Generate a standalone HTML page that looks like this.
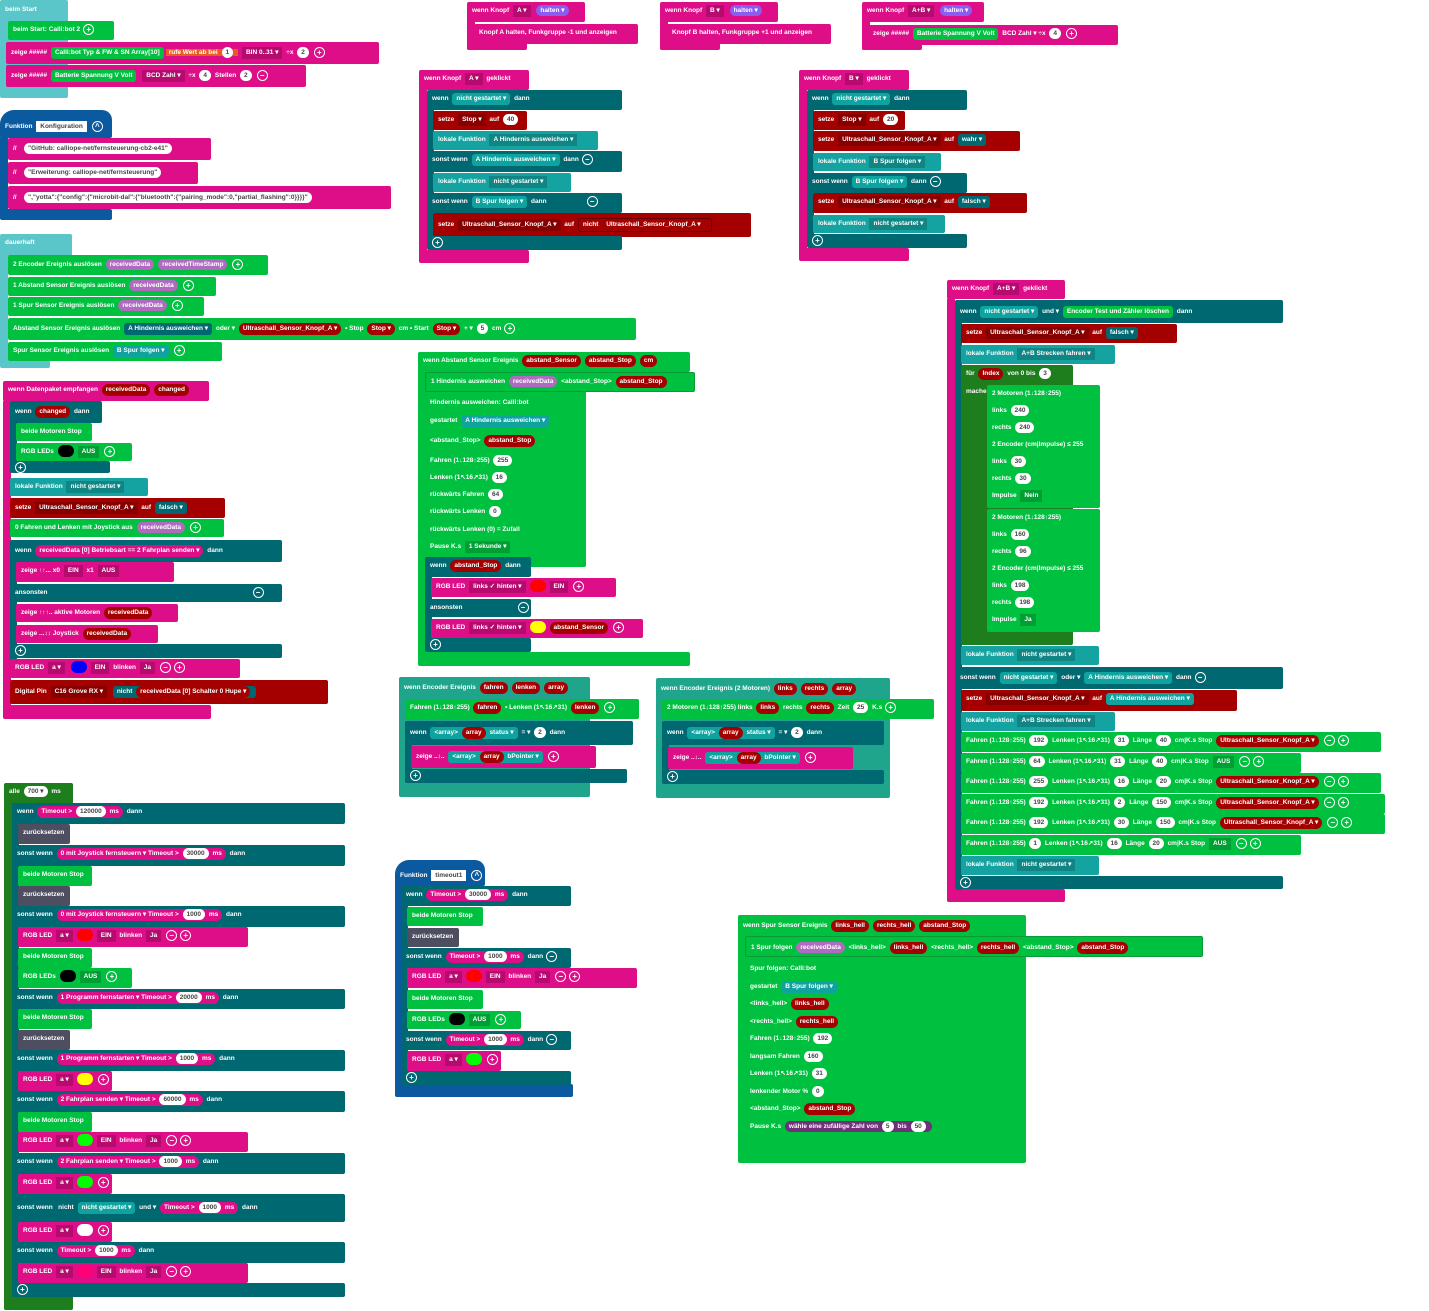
<!DOCTYPE html>
<html><head><meta charset="utf-8">
<style>
body{margin:0;width:1429px;height:1311px;background:#fff;position:relative;overflow:hidden;font-family:"Liberation Sans",sans-serif}
.b{position:absolute;height:18px;line-height:18px;font-size:6.5px;font-weight:bold;color:#fff;padding-left:5px;white-space:nowrap;border-radius:2px;box-sizing:border-box;overflow:hidden}
.g{background:#00c13f}.m{background:#dd0e87}.t{background:#006870}.l{background:#14a3a0}.r{background:#a40000}
.c{background:#5bc6c9}.u{background:#0b5aa0}.k{background:#1e7e1e}.y{background:#4d4e60}.e{background:#1fa58c}
.p{display:inline-block;background:#fff;color:#444;border-radius:7px;padding:0 4px;line-height:11px;margin:0 2px}
.v{display:inline-block;background:#a40000;color:#fff;border-radius:7px;padding:0 4px;line-height:12px;margin:0 2px}
.q{display:inline-block;background:#0fa3a0;color:#fff;border-radius:3px;padding:0 4px;line-height:12px;margin:0 2px}
.o{display:inline-block;background:rgba(0,0,0,.18);color:#fff;padding:0 4px;line-height:12px;margin:0 2px}
.n{display:inline-block;background:#b06bc0;color:#fff;border-radius:7px;padding:0 4px;line-height:11px;margin:0 2px}
.s{display:inline-block;width:9px;height:9px;border-radius:50%;border:1px solid #fff;vertical-align:middle;line-height:9px;text-align:center;font-size:8px;margin-left:3px}
.dot{display:inline-block;width:16px;height:12px;border-radius:7px;vertical-align:middle;margin:0 2px}
</style></head><body>

<!-- beim Start -->
<div class="b c" style="left:0;top:0;width:68px;height:98px;line-height:20px">beim Start</div>
<div class="b g" style="left:8px;top:21px;width:106px;height:19px">beim Start: Calli:bot 2<span class="s">+</span></div>
<div class="b m" style="left:6px;top:42px;width:373px;height:22px;line-height:22px">zeige ##### <span class="q" style="background:#00c13f">Calli:bot Typ &amp; FW &amp; SN Array[10]</span><span style="background:#e85d1f;padding:0 3px">rufe Wert ab bei <span class="p">1</span></span> <span class="o">BIN 0..31 ▾</span> ÷x <span class="p">2</span><span class="s">+</span></div>
<div class="b m" style="left:6px;top:65px;width:300px;height:22px;line-height:22px">zeige ##### <span class="q" style="background:#00c13f">Batterie Spannung V Volt</span> <span class="o">BCD Zahl ▾</span> ÷x <span class="p">4</span> Stellen <span class="p">2</span><span class="s">−</span></div>

<!-- Funktion Konfiguration -->
<div class="b u" style="left:0;top:110px;width:112px;height:28px;line-height:34px;border-radius:14px 10px 2px 2px">Funktion <span class="p" style="border-radius:0">Konfiguration</span><span class="s">^</span></div>
<div class="b u" style="left:0;top:136px;width:8px;height:82px"></div>
<div class="b u" style="left:0;top:209px;width:112px;height:11px"></div>
<div class="b m" style="left:8px;top:138px;width:203px;height:22px;line-height:22px">//&nbsp;&nbsp; <span class="p">"GitHub: calliope-net/fernsteuerung-cb2-e41"</span></div>
<div class="b m" style="left:8px;top:162px;width:190px;height:22px;line-height:22px">//&nbsp;&nbsp; <span class="p">"Erweiterung: calliope-net/fernsteuerung"</span></div>
<div class="b m" style="left:8px;top:186px;width:383px;height:23px;line-height:23px">//&nbsp;&nbsp; <span class="p">","yotta":{"config":{"microbit-dal":{"bluetooth":{"pairing_mode":0,"partial_flashing":0}}}}"</span></div>

<!-- dauerhaft -->
<div class="b c" style="left:0;top:234px;width:72px;height:22px">dauerhaft</div>
<div class="b c" style="left:0;top:254px;width:8px;height:110px"></div>
<div class="b c" style="left:0;top:358px;width:50px;height:10px"></div>
<div class="b g" style="left:8px;top:255px;width:260px;height:20px;line-height:20px">2 Encoder Ereignis auslösen <span class="n">receivedData</span><span class="n">receivedTimeStamp</span><span class="s">+</span></div>
<div class="b g" style="left:8px;top:277px;width:208px;height:19px">1 Abstand Sensor Ereignis auslösen <span class="n">receivedData</span><span class="s">+</span></div>
<div class="b g" style="left:8px;top:297px;width:196px;height:19px">1 Spur Sensor Ereignis auslösen <span class="n">receivedData</span><span class="s">+</span></div>
<div class="b g" style="left:8px;top:318px;width:628px;height:22px;line-height:22px">Abstand Sensor Ereignis auslösen <span class="q" style="background:#006870">A Hindernis ausweichen ▾</span> oder ▾ <span class="v">Ultraschall_Sensor_Knopf_A ▾</span> • Stop <span class="v">Stop ▾</span> cm • Start <span class="v">Stop ▾</span> + ▾ <span class="p">5</span> cm<span class="s">+</span></div>
<div class="b g" style="left:8px;top:342px;width:214px;height:19px">Spur Sensor Ereignis auslösen <span class="q">B Spur folgen ▾</span><span class="s">+</span></div>

<!-- wenn Datenpaket -->
<div class="b m" style="left:3px;top:381px;width:206px;height:20px">wenn Datenpaket empfangen <span class="v">receivedData</span><span class="v">changed</span></div>
<div class="b m" style="left:3px;top:400px;width:8px;height:318px"></div>
<div class="b m" style="left:3px;top:705px;width:208px;height:14px"></div>
<div class="b t" style="left:10px;top:401px;width:92px;height:22px;line-height:22px">wenn <span class="v">changed</span> dann</div>
<div class="b t" style="left:10px;top:420px;width:7px;height:52px"></div>
<div class="b t" style="left:10px;top:461px;width:100px;height:12px;line-height:14px"><span class="s" style="margin:0">+</span></div>
<div class="b g" style="left:16px;top:423px;width:76px">beide Motoren Stop</div>
<div class="b g" style="left:16px;top:443px;width:116px">RGB LEDs <span class="dot" style="background:#000"></span><span class="o">AUS</span><span class="s">+</span></div>
<div class="b l" style="left:10px;top:478px;width:138px">lokale Funktion <span class="o">nicht gestartet ▾</span></div>
<div class="b r" style="left:10px;top:498px;width:215px;height:20px;line-height:20px">setze <span class="o">Ultraschall_Sensor_Knopf_A ▾</span> auf <span class="q" style="background:#006870">falsch ▾</span></div>
<div class="b g" style="left:10px;top:519px;width:214px">0 Fahren und Lenken mit Joystick aus <span class="n">receivedData</span><span class="s">+</span></div>
<div class="b t" style="left:10px;top:540px;width:272px;height:22px;line-height:22px">wenn <span class="v" style="background:#dd0e87">receivedData [0] Betriebsart == 2 Fahrplan senden ▾</span> dann</div>
<div class="b t" style="left:10px;top:560px;width:7px;height:100px"></div>
<div class="b m" style="left:16px;top:562px;width:158px;height:20px">zeige ↑↑... x0 <span class="o">EIN</span> x1 <span class="o">AUS</span></div>
<div class="b t" style="left:10px;top:584px;width:272px;height:18px">ansonsten<span class="s" style="margin-left:205px">−</span></div>
<div class="b m" style="left:16px;top:604px;width:162px">zeige ↑↑↑.. aktive Motoren <span class="v" style="background:#a40000">receivedData</span></div>
<div class="b m" style="left:16px;top:625px;width:142px">zeige ...↕↕ Joystick <span class="v">receivedData</span></div>
<div class="b t" style="left:10px;top:644px;width:272px;height:14px;line-height:14px"><span class="s" style="margin:0">+</span></div>
<div class="b m" style="left:10px;top:659px;width:230px;height:19px">RGB LED <span class="o">a ▾</span> <span class="dot" style="background:#00f"></span><span class="o">EIN</span> blinken <span class="o">Ja</span><span class="s">−</span><span class="s">+</span></div>
<div class="b r" style="left:10px;top:680px;width:318px;height:24px;line-height:24px">Digital Pin <span class="o">C16 Grove RX ▾</span> <span class="q" style="background:#006870">nicht <span class="v">receivedData [0] Schalter 0 Hupe ▾</span></span></div>

<!-- Knopf halten -->
<div class="b m" style="left:467px;top:2px;width:118px;height:20px">wenn Knopf <span class="o">A ▾</span> <span class="n" style="background:#8a5cf0">halten ▾</span></div>
<div class="b m" style="left:467px;top:20px;width:8px;height:30px"></div>
<div class="b m" style="left:474px;top:24px;width:164px;height:20px">Knopf A halten, Funkgruppe -1 und anzeigen</div>
<div class="b m" style="left:467px;top:42px;width:60px;height:8px"></div>
<div class="b m" style="left:660px;top:2px;width:118px;height:20px">wenn Knopf <span class="o">B ▾</span> <span class="n" style="background:#8a5cf0">halten ▾</span></div>
<div class="b m" style="left:660px;top:20px;width:8px;height:30px"></div>
<div class="b m" style="left:667px;top:24px;width:164px;height:20px">Knopf B halten, Funkgruppe +1 und anzeigen</div>
<div class="b m" style="left:660px;top:42px;width:60px;height:8px"></div>
<div class="b m" style="left:862px;top:2px;width:122px;height:20px">wenn Knopf <span class="o">A+B ▾</span> <span class="n" style="background:#8a5cf0">halten ▾</span></div>
<div class="b m" style="left:862px;top:20px;width:8px;height:30px"></div>
<div class="b m" style="left:868px;top:25px;width:250px;height:20px">zeige ##### <span class="q" style="background:#00c13f">Batterie Spannung V Volt</span> BCD Zahl ▾ ÷x <span class="p">4</span><span class="s">+</span></div>
<div class="b m" style="left:862px;top:42px;width:60px;height:8px"></div>

<!-- Knopf A geklickt -->
<div class="b m" style="left:419px;top:70px;width:110px;height:20px">wenn Knopf <span class="o">A ▾</span> geklickt</div>
<div class="b m" style="left:419px;top:88px;width:8px;height:174px"></div>
<div class="b m" style="left:419px;top:250px;width:110px;height:13px"></div>
<div class="b t" style="left:427px;top:90px;width:195px;height:20px">wenn <span class="q">nicht gestartet ▾</span> dann</div>
<div class="b t" style="left:427px;top:108px;width:7px;height:140px"></div>
<div class="b r" style="left:433px;top:111px;width:94px;height:19px">setze <span class="o">Stop ▾</span> auf <span class="p">40</span></div>
<div class="b l" style="left:433px;top:131px;width:165px;height:19px">lokale Funktion <span class="o">A Hindernis ausweichen ▾</span></div>
<div class="b t" style="left:427px;top:151px;width:195px;height:21px">sonst wenn <span class="q">A Hindernis ausweichen ▾</span> dann<span class="s">−</span></div>
<div class="b l" style="left:433px;top:173px;width:138px;height:19px">lokale Funktion <span class="o">nicht gestartet ▾</span></div>
<div class="b t" style="left:427px;top:193px;width:195px;height:20px">sonst wenn <span class="q">B Spur folgen ▾</span> dann<span class="s" style="margin-left:40px">−</span></div>
<div class="b r" style="left:433px;top:213px;width:318px;height:24px;line-height:24px">setze <span class="o">Ultraschall_Sensor_Knopf_A ▾</span> auf <span class="q" style="background:#a40000;border:1px solid #600">nicht <span class="v">Ultraschall_Sensor_Knopf_A ▾</span></span></div>
<div class="b t" style="left:427px;top:236px;width:195px;height:14px;line-height:14px"><span class="s" style="margin:0">+</span></div>

<!-- Knopf B geklickt -->
<div class="b m" style="left:799px;top:70px;width:110px;height:20px">wenn Knopf <span class="o">B ▾</span> geklickt</div>
<div class="b m" style="left:799px;top:88px;width:8px;height:172px"></div>
<div class="b m" style="left:799px;top:248px;width:110px;height:13px"></div>
<div class="b t" style="left:807px;top:90px;width:160px;height:20px">wenn <span class="q">nicht gestartet ▾</span> dann</div>
<div class="b t" style="left:807px;top:108px;width:7px;height:138px"></div>
<div class="b r" style="left:813px;top:111px;width:92px;height:19px">setze <span class="o">Stop ▾</span> auf <span class="p">20</span></div>
<div class="b r" style="left:813px;top:131px;width:207px;height:20px">setze <span class="o">Ultraschall_Sensor_Knopf_A ▾</span> auf <span class="q" style="background:#006870">wahr ▾</span></div>
<div class="b l" style="left:813px;top:153px;width:128px;height:18px">lokale Funktion <span class="o">B Spur folgen ▾</span></div>
<div class="b t" style="left:807px;top:173px;width:160px;height:20px">sonst wenn <span class="q">B Spur folgen ▾</span> dann<span class="s">−</span></div>
<div class="b r" style="left:813px;top:193px;width:214px;height:20px">setze <span class="o">Ultraschall_Sensor_Knopf_A ▾</span> auf <span class="q" style="background:#006870">falsch ▾</span></div>
<div class="b l" style="left:813px;top:215px;width:132px;height:18px">lokale Funktion <span class="o">nicht gestartet ▾</span></div>
<div class="b t" style="left:807px;top:234px;width:160px;height:14px;line-height:14px"><span class="s" style="margin:0">+</span></div>

<!-- Abstand Sensor Ereignis -->
<div class="b g" style="left:418px;top:352px;width:168px;height:215px"></div>
<div class="b g" style="left:418px;top:352px;width:272px;height:20px">wenn Abstand Sensor Ereignis <span class="v">abstand_Sensor</span><span class="v">abstand_Stop</span><span class="v">cm</span></div>
<div class="b g" style="left:418px;top:550px;width:8px;height:110px"></div>
<div class="b g" style="left:418px;top:652px;width:272px;height:14px"></div>
<div class="b g" style="left:425px;top:372px;width:270px;height:20px;border:1px solid #0a9a35">1 Hindernis ausweichen <span class="n">receivedData</span> &lt;abstand_Stop&gt; <span class="v">abstand_Stop</span></div>
<div class="b g" style="left:425px;top:394px;width:150px;height:17px">Hindernis ausweichen: Calli:bot</div>
<div class="b g" style="left:425px;top:412px;width:160px;height:18px">gestartet <span class="q">A Hindernis ausweichen ▾</span></div>
<div class="b g" style="left:425px;top:432px;width:160px;height:18px">&lt;abstand_Stop&gt; <span class="v">abstand_Stop</span></div>
<div class="b g" style="left:425px;top:452px;width:150px;height:17px">Fahren (1↓128↑255) <span class="p">255</span></div>
<div class="b g" style="left:425px;top:469px;width:150px;height:17px">Lenken (1↖16↗31) <span class="p">16</span></div>
<div class="b g" style="left:425px;top:486px;width:150px;height:17px">rückwärts Fahren <span class="p">64</span></div>
<div class="b g" style="left:425px;top:503px;width:150px;height:17px">rückwärts Lenken <span class="p">0</span></div>
<div class="b g" style="left:425px;top:521px;width:150px;height:17px">rückwärts Lenken (0) = Zufall</div>
<div class="b g" style="left:425px;top:538px;width:150px;height:17px">Pause K.s <span class="o">1 Sekunde ▾</span></div>
<div class="b t" style="left:425px;top:557px;width:106px;height:20px">wenn <span class="v">abstand_Stop</span> dann</div>
<div class="b t" style="left:425px;top:575px;width:7px;height:75px"></div>
<div class="b m" style="left:431px;top:578px;width:185px;height:19px">RGB LED <span class="o">links ✓ hinten ▾</span><span class="dot" style="background:#f00"></span><span class="o">EIN</span><span class="s">+</span></div>
<div class="b t" style="left:425px;top:599px;width:106px;height:18px">ansonsten<span class="s" style="margin-left:55px">−</span></div>
<div class="b m" style="left:431px;top:619px;width:212px;height:19px">RGB LED <span class="o">links ✓ hinten ▾</span><span class="dot" style="background:#ff0"></span><span class="v">abstand_Sensor</span><span class="s">+</span></div>
<div class="b t" style="left:425px;top:638px;width:106px;height:14px;line-height:14px"><span class="s" style="margin:0">+</span></div>

<!-- Encoder 1 -->
<div class="b e" style="left:399px;top:677px;width:191px;height:120px;line-height:22px">wenn Encoder Ereignis <span class="v">fahren</span><span class="v">lenken</span><span class="v">array</span></div>
<div class="b g" style="left:405px;top:699px;width:234px;height:20px">Fahren (1↓128↑255) <span class="v">fahren</span> • Lenken (1↖16↗31) <span class="v">lenken</span><span class="s">+</span></div>
<div class="b t" style="left:405px;top:721px;width:228px;height:24px;line-height:24px">wenn <span class="q">&lt;array&gt; <span class="v">array</span> status ▾</span> = ▾ <span class="p">2</span> dann</div>
<div class="b t" style="left:405px;top:744px;width:7px;height:30px"></div>
<div class="b m" style="left:411px;top:746px;width:185px;height:22px;line-height:22px">zeige ..↕.. <span class="q">&lt;array&gt; <span class="v">array</span> bPointer ▾</span><span class="s">+</span></div>
<div class="b t" style="left:405px;top:769px;width:222px;height:14px;line-height:14px"><span class="s" style="margin:0">+</span></div>

<!-- Encoder 2 -->
<div class="b e" style="left:656px;top:678px;width:234px;height:120px;line-height:22px">wenn Encoder Ereignis (2 Motoren) <span class="v">links</span><span class="v">rechts</span><span class="v">array</span></div>
<div class="b g" style="left:662px;top:699px;width:272px;height:20px">2 Motoren (1↓128↑255) links <span class="v">links</span> rechts <span class="v">rechts</span> Zeit <span class="p">25</span> K.s<span class="s">+</span></div>
<div class="b t" style="left:662px;top:721px;width:222px;height:24px;line-height:24px">wenn <span class="q">&lt;array&gt; <span class="v">array</span> status ▾</span> = ▾ <span class="p">2</span> dann</div>
<div class="b t" style="left:662px;top:744px;width:7px;height:30px"></div>
<div class="b m" style="left:668px;top:747px;width:185px;height:22px;line-height:22px">zeige ..↕.. <span class="q">&lt;array&gt; <span class="v">array</span> bPointer ▾</span><span class="s">+</span></div>
<div class="b t" style="left:662px;top:770px;width:222px;height:14px;line-height:14px"><span class="s" style="margin:0">+</span></div>

<!-- Funktion timeout1 -->
<div class="b u" style="left:395px;top:860px;width:90px;height:26px;line-height:32px;border-radius:14px 10px 2px 2px">Funktion <span class="p" style="border-radius:0">timeout1</span><span class="s">^</span></div>
<div class="b u" style="left:395px;top:884px;width:7px;height:212px"></div>
<div class="b u" style="left:395px;top:1084px;width:178px;height:13px"></div>
<div class="b t" style="left:401px;top:886px;width:170px;height:20px">wenn <span class="v" style="background:#dd0e87">Timeout &gt; <span class="p">30000</span> ms</span> dann</div>
<div class="b t" style="left:401px;top:904px;width:7px;height:180px"></div>
<div class="b g" style="left:407px;top:907px;width:76px;height:19px">beide Motoren Stop</div>
<div class="b y" style="left:407px;top:928px;width:52px;height:19px">zurücksetzen</div>
<div class="b t" style="left:401px;top:948px;width:170px;height:20px">sonst wenn <span class="v" style="background:#dd0e87">Timeout &gt; <span class="p">1000</span> ms</span> dann<span class="s">−</span></div>
<div class="b m" style="left:407px;top:968px;width:230px;height:20px">RGB LED <span class="o">a ▾</span><span class="dot" style="background:#f00"></span><span class="o">EIN</span> blinken <span class="o">Ja</span><span class="s">−</span><span class="s">+</span></div>
<div class="b g" style="left:407px;top:990px;width:76px;height:19px">beide Motoren Stop</div>
<div class="b g" style="left:407px;top:1011px;width:114px;height:18px">RGB LEDs <span class="dot" style="background:#000"></span><span class="o">AUS</span><span class="s">+</span></div>
<div class="b t" style="left:401px;top:1031px;width:170px;height:19px">sonst wenn <span class="v" style="background:#dd0e87">Timeout &gt; <span class="p">1000</span> ms</span> dann<span class="s">−</span></div>
<div class="b m" style="left:407px;top:1051px;width:94px;height:20px">RGB LED <span class="o">a ▾</span><span class="dot" style="background:#0f0"></span><span class="s">+</span></div>
<div class="b t" style="left:401px;top:1071px;width:170px;height:14px;line-height:14px"><span class="s" style="margin:0">+</span></div>

<!-- alle 700 ms -->
<div class="b k" style="left:4px;top:783px;width:69px;height:21px">alle <span class="p">700 ▾</span> ms</div>
<div class="b k" style="left:4px;top:802px;width:8px;height:508px"></div>
<div class="b k" style="left:4px;top:1290px;width:69px;height:20px"></div>
<div class="b t" style="left:12px;top:803px;width:7px;height:494px"></div>
<div class="b t" style="left:12px;top:803px;width:333px;height:21px">wenn <span class="v" style="background:#dd0e87">Timeout &gt; <span class="p">120000</span> ms</span> dann</div>
<div class="b y" style="left:18px;top:824px;width:52px;height:20px">zurücksetzen</div>
<div class="b t" style="left:12px;top:845px;width:333px;height:21px">sonst wenn <span class="v" style="background:#dd0e87">0 mit Joystick fernsteuern ▾ Timeout &gt; <span class="p">30000</span> ms</span> dann</div>
<div class="b g" style="left:18px;top:866px;width:74px;height:20px">beide Motoren Stop</div>
<div class="b y" style="left:18px;top:886px;width:52px;height:20px">zurücksetzen</div>
<div class="b t" style="left:12px;top:906px;width:333px;height:21px">sonst wenn <span class="v" style="background:#dd0e87">0 mit Joystick fernsteuern ▾ Timeout &gt; <span class="p">1000</span> ms</span> dann</div>
<div class="b m" style="left:18px;top:927px;width:230px;height:20px">RGB LED <span class="o">a ▾</span><span class="dot" style="background:#f00"></span><span class="o">EIN</span> blinken <span class="o">Ja</span><span class="s">−</span><span class="s">+</span></div>
<div class="b g" style="left:18px;top:948px;width:74px;height:20px">beide Motoren Stop</div>
<div class="b g" style="left:18px;top:968px;width:114px;height:20px">RGB LEDs <span class="dot" style="background:#000"></span><span class="o">AUS</span><span class="s">+</span></div>
<div class="b t" style="left:12px;top:989px;width:333px;height:20px">sonst wenn <span class="v" style="background:#dd0e87">1 Programm fernstarten ▾ Timeout &gt; <span class="p">20000</span> ms</span> dann</div>
<div class="b g" style="left:18px;top:1009px;width:74px;height:20px">beide Motoren Stop</div>
<div class="b y" style="left:18px;top:1030px;width:52px;height:20px">zurücksetzen</div>
<div class="b t" style="left:12px;top:1050px;width:333px;height:21px">sonst wenn <span class="v" style="background:#dd0e87">1 Programm fernstarten ▾ Timeout &gt; <span class="p">1000</span> ms</span> dann</div>
<div class="b m" style="left:18px;top:1071px;width:94px;height:20px">RGB LED <span class="o">a ▾</span><span class="dot" style="background:#ff0"></span><span class="s">+</span></div>
<div class="b t" style="left:12px;top:1091px;width:333px;height:21px">sonst wenn <span class="v" style="background:#dd0e87">2 Fahrplan senden ▾ Timeout &gt; <span class="p">60000</span> ms</span> dann</div>
<div class="b g" style="left:18px;top:1112px;width:74px;height:20px">beide Motoren Stop</div>
<div class="b m" style="left:18px;top:1132px;width:230px;height:20px">RGB LED <span class="o">a ▾</span><span class="dot" style="background:#0f0"></span><span class="o">EIN</span> blinken <span class="o">Ja</span><span class="s">−</span><span class="s">+</span></div>
<div class="b t" style="left:12px;top:1153px;width:333px;height:21px">sonst wenn <span class="v" style="background:#dd0e87">2 Fahrplan senden ▾ Timeout &gt; <span class="p">1000</span> ms</span> dann</div>
<div class="b m" style="left:18px;top:1174px;width:94px;height:20px">RGB LED <span class="o">a ▾</span><span class="dot" style="background:#0f0"></span><span class="s">+</span></div>
<div class="b t" style="left:12px;top:1194px;width:333px;height:28px;line-height:28px">sonst wenn &nbsp; nicht <span class="q">nicht gestartet ▾</span> und ▾ <span class="v" style="background:#dd0e87">Timeout &gt; <span class="p">1000</span> ms</span> dann</div>
<div class="b m" style="left:18px;top:1222px;width:94px;height:20px">RGB LED <span class="o">a ▾</span><span class="dot" style="background:#fff"></span><span class="s">+</span></div>
<div class="b t" style="left:12px;top:1242px;width:333px;height:21px">sonst wenn <span class="v" style="background:#dd0e87">Timeout &gt; <span class="p">1000</span> ms</span> dann</div>
<div class="b m" style="left:18px;top:1263px;width:230px;height:20px">RGB LED <span class="o">a ▾</span><span class="dot" style="background:#f07"></span><span class="o">EIN</span> blinken <span class="o">Ja</span><span class="s">−</span><span class="s">+</span></div>
<div class="b t" style="left:12px;top:1283px;width:333px;height:14px;line-height:14px"><span class="s" style="margin:0">+</span></div>

<!-- Knopf A+B geklickt -->
<div class="b m" style="left:947px;top:280px;width:118px;height:19px">wenn Knopf <span class="o">A+B ▾</span> geklickt</div>
<div class="b m" style="left:947px;top:298px;width:8px;height:604px"></div>
<div class="b m" style="left:947px;top:889px;width:118px;height:13px"></div>
<div class="b t" style="left:955px;top:300px;width:7px;height:590px"></div>
<div class="b t" style="left:955px;top:300px;width:328px;height:23px;line-height:23px">wenn <span class="q">nicht gestartet ▾</span> und ▾ <span class="q" style="background:#00c13f">Encoder Test und Zähler löschen</span> dann</div>
<div class="b r" style="left:961px;top:324px;width:216px;height:19px">setze <span class="o">Ultraschall_Sensor_Knopf_A ▾</span> auf <span class="q" style="background:#006870">falsch ▾</span></div>
<div class="b l" style="left:961px;top:345px;width:154px;height:19px">lokale Funktion <span class="o">A+B Strecken fahren ▾</span></div>
<div class="b k" style="left:961px;top:365px;width:112px;height:280px;line-height:18px">für <span class="v">Index</span> von 0 bis <span class="p">3</span><br>mache</div>
<div class="b g" style="left:987px;top:385px;width:113px;height:123px;line-height:17px">2 Motoren (1↓128↑255)<br>links <span class="p">240</span><br>rechts <span class="p">240</span><br>2 Encoder (cm|Impulse) ≤ 255<br>links <span class="p">30</span><br>rechts <span class="p">30</span><br>Impulse <span class="o">Nein</span></div>
<div class="b g" style="left:987px;top:509px;width:113px;height:123px;line-height:17px">2 Motoren (1↓128↑255)<br>links <span class="p">160</span><br>rechts <span class="p">96</span><br>2 Encoder (cm|Impulse) ≤ 255<br>links <span class="p">198</span><br>rechts <span class="p">198</span><br>Impulse <span class="o">Ja</span></div>
<div class="b l" style="left:961px;top:646px;width:138px;height:19px">lokale Funktion <span class="o">nicht gestartet ▾</span></div>
<div class="b t" style="left:955px;top:667px;width:328px;height:22px;line-height:22px">sonst wenn <span class="q">nicht gestartet ▾</span> oder ▾ <span class="q">A Hindernis ausweichen ▾</span> dann<span class="s">−</span></div>
<div class="b r" style="left:961px;top:690px;width:276px;height:21px">setze <span class="o">Ultraschall_Sensor_Knopf_A ▾</span> auf <span class="q">A Hindernis ausweichen ▾</span></div>
<div class="b l" style="left:961px;top:712px;width:154px;height:19px">lokale Funktion <span class="o">A+B Strecken fahren ▾</span></div>
<div class="b g" style="left:961px;top:732px;width:420px;height:20px">Fahren (1↓128↑255) <span class="p">192</span> Lenken (1↖16↗31) <span class="p">31</span> Länge <span class="p">40</span> cm|K.s Stop <span class="v">Ultraschall_Sensor_Knopf_A ▾</span><span class="s">−</span><span class="s">+</span></div>
<div class="b g" style="left:961px;top:753px;width:340px;height:20px">Fahren (1↓128↑255) <span class="p">64</span> Lenken (1↖16↗31) <span class="p">31</span> Länge <span class="p">40</span> cm|K.s Stop <span class="o">AUS</span><span class="s">−</span><span class="s">+</span></div>
<div class="b g" style="left:961px;top:773px;width:420px;height:20px">Fahren (1↓128↑255) <span class="p">255</span> Lenken (1↖16↗31) <span class="p">16</span> Länge <span class="p">20</span> cm|K.s Stop <span class="v">Ultraschall_Sensor_Knopf_A ▾</span><span class="s">−</span><span class="s">+</span></div>
<div class="b g" style="left:961px;top:794px;width:424px;height:20px">Fahren (1↓128↑255) <span class="p">192</span> Lenken (1↖16↗31) <span class="p">2</span> Länge <span class="p">150</span> cm|K.s Stop <span class="v">Ultraschall_Sensor_Knopf_A ▾</span><span class="s">−</span><span class="s">+</span></div>
<div class="b g" style="left:961px;top:814px;width:424px;height:20px">Fahren (1↓128↑255) <span class="p">192</span> Lenken (1↖16↗31) <span class="p">30</span> Länge <span class="p">150</span> cm|K.s Stop <span class="v">Ultraschall_Sensor_Knopf_A ▾</span><span class="s">−</span><span class="s">+</span></div>
<div class="b g" style="left:961px;top:835px;width:340px;height:20px">Fahren (1↓128↑255) <span class="p">1</span> Lenken (1↖16↗31) <span class="p">16</span> Länge <span class="p">20</span> cm|K.s Stop <span class="o">AUS</span><span class="s">−</span><span class="s">+</span></div>
<div class="b l" style="left:961px;top:856px;width:138px;height:19px">lokale Funktion <span class="o">nicht gestartet ▾</span></div>
<div class="b t" style="left:955px;top:876px;width:328px;height:13px;line-height:13px"><span class="s" style="margin:0">+</span></div>

<!-- Spur Sensor Ereignis -->
<div class="b g" style="left:738px;top:915px;width:288px;height:248px;line-height:22px">wenn Spur Sensor Ereignis <span class="v">links_hell</span><span class="v">rechts_hell</span><span class="v">abstand_Stop</span></div>
<div class="b g" style="left:745px;top:936px;width:458px;height:21px;line-height:21px;border:1px solid #0a9a35">1 Spur folgen <span class="n">receivedData</span> &lt;links_hell&gt; <span class="v">links_hell</span> &lt;rechts_hell&gt; <span class="v">rechts_hell</span> &lt;abstand_Stop&gt; <span class="v">abstand_Stop</span></div>
<div class="b g" style="left:745px;top:958px;width:222px;height:190px;line-height:17.5px;padding-top:2px">Spur folgen: Calli:bot<br>gestartet <span class="q">B Spur folgen ▾</span><br>&lt;links_hell&gt; <span class="v">links_hell</span><br>&lt;rechts_hell&gt; <span class="v">rechts_hell</span><br>Fahren (1↓128↑255) <span class="p">192</span><br>langsam Fahren <span class="p">160</span><br>Lenken (1↖16↗31) <span class="p">31</span><br>lenkender Motor % <span class="p">0</span><br>&lt;abstand_Stop&gt; <span class="v">abstand_Stop</span><br>Pause K.s <span class="n" style="background:#70307a">wähle eine zufällige Zahl von <span class="p">5</span> bis <span class="p">50</span></span></div>

</body></html>
